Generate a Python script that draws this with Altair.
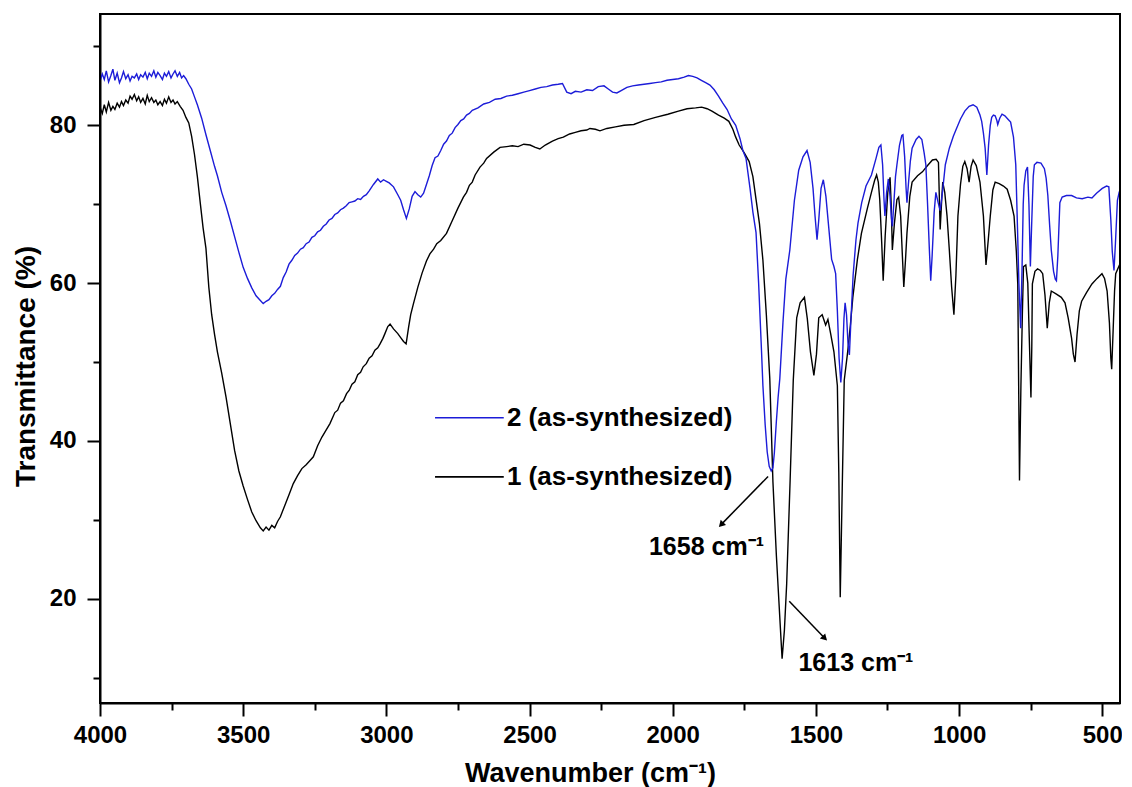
import altair as alt
import pandas as pd

BLUE = "#1c1cd8"
FONT = "Liberation Sans"

# ---- spectra: (wavenumber cm-1, transmittance %) ----
spectrum_2 = [
(4000,85.6),(3992,86.5),(3985,85.8),(3978,86.9),(3970,85.5),(3962,86.3),(3955,87.1),(3948,85.7),(3940,86.6),(3932,85.4),
(3925,86.0),(3918,86.8),(3910,85.9),(3902,86.4),(3895,85.6),(3888,86.2),(3880,86.0),(3872,86.5),(3865,85.8),(3858,86.4),
(3850,86.1),(3842,86.7),(3835,85.9),(3828,86.6),(3820,86.2),(3812,86.9),(3805,86.1),(3798,86.7),(3790,86.3),(3782,85.8),
(3775,86.6),(3768,86.2),(3760,86.8),(3752,86.0),(3745,86.5),(3738,86.9),(3730,86.2),(3722,86.7),(3715,86.0),(3708,86.3),
(3700,85.9),(3690,85.2),(3680,84.6),(3670,83.6),(3660,82.6),(3645,80.9),(3630,78.8),(3615,76.8),(3600,74.8),(3590,73.6),
(3575,71.5),(3560,69.8),(3545,67.9),(3530,65.9),(3515,63.9),(3500,62.0),(3485,60.6),(3470,59.4),(3455,58.4),(3440,57.8),
(3430,57.4),(3420,57.7),(3410,57.9),(3400,58.4),(3390,58.7),(3380,59.2),(3370,59.6),(3360,60.7),(3350,61.4),(3340,62.4),
(3330,62.9),(3320,63.5),(3310,63.8),(3300,64.3),(3290,64.5),(3280,65.0),(3270,65.2),(3260,65.8),(3250,66.0),(3240,66.5),
(3230,66.7),(3220,67.2),(3210,67.5),(3200,68.0),(3190,68.2),(3180,68.7),(3170,68.9),(3160,69.3),(3150,69.5),(3140,69.8),
(3130,70.2),(3120,70.3),(3110,70.4),(3100,70.7),(3090,70.6),(3080,71.0),(3070,71.2),(3060,71.7),(3045,72.5),(3030,73.2),
(3020,72.8),(3010,73.1),(3000,72.9),(2990,72.7),(2975,72.2),(2960,71.2),(2950,70.5),(2940,69.3),(2930,68.2),(2920,69.4),
(2910,71.0),(2900,71.6),(2890,71.2),(2880,70.9),(2870,71.4),(2860,72.5),(2850,73.6),(2840,74.9),(2830,75.9),(2820,76.1),
(2810,76.8),(2800,77.6),(2790,78.0),(2780,78.7),(2770,79.0),(2760,79.7),(2750,80.1),(2740,80.6),(2730,80.8),(2720,81.3),
(2710,81.5),(2700,81.9),(2680,82.2),(2660,82.7),(2640,82.9),(2620,83.3),(2600,83.4),(2580,83.7),(2560,83.8),(2540,84.0),
(2520,84.2),(2500,84.4),(2480,84.6),(2460,84.8),(2440,84.9),(2420,85.1),(2400,85.2),(2385,85.3),(2370,84.2),(2355,84.0),
(2340,84.3),(2320,84.2),(2300,84.5),(2280,84.4),(2260,84.9),(2240,85.0),(2225,84.6),(2210,84.2),(2195,84.1),(2180,84.4),
(2160,84.8),(2140,85.0),(2120,85.1),(2100,85.2),(2080,85.3),(2060,85.4),(2040,85.5),(2020,85.7),(2000,85.8),(1980,85.9),
(1960,86.1),(1945,86.3),(1930,86.2),(1915,86.0),(1900,85.7),(1885,85.4),(1870,85.1),(1855,84.5),(1840,83.7),(1825,82.8),
(1810,82.0),(1795,80.8),(1780,80.0),(1765,78.3),(1755,76.8),(1744,75.8),(1730,72.0),(1720,69.0),(1709,66.4),(1700,60.0),
(1690,51.5),(1685,47.0),(1677,42.0),(1670,38.6),(1663,36.8),(1656,36.2),(1650,36.6),(1645,38.5),(1638,42.5),(1632,45.5),
(1626,47.9),(1615,55.0),(1605,60.5),(1591,64.2),(1575,70.5),(1560,74.3),(1545,76.0),(1531,76.8),(1520,75.3),(1510,72.0),
(1503,68.5),(1496,65.5),(1490,68.0),(1482,72.0),(1474,73.1),(1465,71.0),(1455,67.0),(1445,63.0),(1437,62.1),(1431,61.2),
(1425,56.5),(1419,50.5),(1413,47.4),(1407,50.5),(1402,55.5),(1398,57.5),(1393,56.0),(1388,52.5),(1383,50.9),(1378,55.0),
(1370,61.0),(1360,65.5),(1353,67.6),(1340,70.2),(1325,72.3),(1306,73.7),(1290,75.8),(1280,77.2),(1273,77.5),(1267,75.0),
(1262,70.5),(1259,68.5),(1253,71.5),(1247,73.2),(1241,71.0),(1236,68.2),(1233,67.2),(1228,70.0),(1222,73.5),(1217,75.0),
(1208,77.5),(1200,78.7),(1196,78.8),(1190,76.0),(1185,72.0),(1182,70.2),(1177,72.5),(1170,75.5),(1164,77.1),(1150,78.2),
(1140,78.6),(1130,78.2),(1122,76.5),(1116,75.0),(1110,70.0),(1104,64.5),(1099,60.3),(1094,63.5),(1087,69.0),(1081,71.5),
(1073,70.2),(1066,69.2),(1058,71.5),(1048,75.0),(1034,77.1),(1020,78.6),(1010,79.5),(995,80.8),(980,81.8),(965,82.4),
(951,82.6),(938,82.3),(927,81.3),(921,80.5),(915,79.0),(909,77.1),(903,73.7),(897,77.5),(891,80.0),(886,81.0),
(880,81.3),(874,81.2),(868,80.6),(865,80.1),(858,80.9),(850,81.4),(840,81.2),(830,80.8),(820,80.4),(810,78.5),
(802,75.0),(796,67.0),(791,59.9),(785,54.3),(780,62.0),(776,70.0),(773,72.4),(767,74.2),(761,74.7),(756,70.0),
(751,62.1),(746,68.0),(741,73.5),(737,75.0),(728,75.3),(714,75.2),(702,74.5),(696,73.3),(690,71.1),(684,67.5),
(678,64.2),(670,61.5),(664,60.5),(660,60.3),(655,63.5),(648,70.2),(640,70.9),(625,71.1),(607,71.1),(590,70.8),
(570,70.7),(550,70.9),(536,70.8),(520,71.4),(500,72.0),(485,72.3),(477,72.2),(470,68.0),(465,64.0),(459,61.6),
(454,65.0),(447,70.5),(441,71.5),(433,72.3),(423,72.2),(415,70.5),(405,68.5),
]

spectrum_1 = [
(4000,82.3),(3992,81.5),(3985,82.6),(3978,81.7),(3970,82.9),(3962,81.9),(3955,82.4),(3948,82.0),(3940,82.8),(3932,82.3),
(3925,83.0),(3918,82.5),(3910,83.2),(3902,82.8),(3895,83.7),(3888,83.3),(3880,83.9),(3872,83.1),(3865,83.6),(3858,82.9),
(3850,83.4),(3842,82.7),(3835,83.8),(3828,83.0),(3820,83.5),(3812,82.9),(3805,83.2),(3798,82.6),(3790,83.0),(3782,82.5),
(3775,83.3),(3768,82.8),(3760,83.6),(3752,82.9),(3745,83.2),(3738,82.7),(3730,83.0),(3720,82.4),(3710,81.9),(3700,81.0),
(3690,80.3),(3680,78.6),(3670,76.3),(3660,73.5),(3650,70.2),(3640,67.0),(3630,64.4),(3620,59.5),(3610,56.0),(3600,53.5),
(3590,51.3),(3575,48.6),(3560,45.6),(3545,42.2),(3530,38.8),(3515,36.2),(3500,34.3),(3485,32.6),(3470,31.0),(3455,29.9),
(3440,29.0),(3430,28.6),(3420,29.1),(3410,28.7),(3400,29.3),(3390,29.0),(3380,29.8),(3370,30.4),(3355,31.8),(3340,33.2),
(3325,34.6),(3310,35.6),(3295,36.5),(3280,37.0),(3265,37.6),(3255,38.0),(3240,39.4),(3225,40.5),(3210,41.4),(3197,42.2),
(3180,43.6),(3170,43.9),(3160,44.8),(3150,45.1),(3139,46.0),(3130,46.4),(3120,47.2),(3110,47.5),(3100,48.4),(3090,48.7),
(3081,49.4),(3070,49.8),(3060,50.5),(3050,50.8),(3040,51.5),(3030,51.8),(3022,52.3),(3012,53.0),(3005,53.6),(2995,54.5),
(2987,54.8),(2975,54.2),(2960,53.6),(2950,53.1),(2940,52.6),(2931,52.3),(2922,54.5),(2915,56.0),(2906,57.3),(2890,59.5),
(2875,61.3),(2860,62.8),(2848,63.7),(2835,64.3),(2824,65.0),(2810,65.4),(2790,66.3),(2770,67.9),(2750,69.5),(2731,70.9),
(2720,71.5),(2710,72.4),(2700,72.8),(2690,73.7),(2673,74.7),(2660,75.2),(2650,75.8),(2625,76.6),(2603,77.2),(2580,77.3),
(2560,77.4),(2540,77.3),(2520,77.6),(2498,77.5),(2480,77.2),(2464,77.0),(2445,77.5),(2420,78.0),(2400,78.3),(2382,78.5),
(2360,78.9),(2340,79.1),(2320,79.3),(2300,79.4),(2289,79.6),(2270,79.5),(2254,79.3),(2230,79.6),(2200,79.8),(2170,80.0),
(2136,80.1),(2100,80.6),(2060,81.0),(2017,81.4),(1980,81.8),(1950,82.1),(1920,82.2),(1899,82.3),(1880,82.1),(1863,81.8),
(1840,81.3),(1820,80.9),(1804,80.5),(1790,79.5),(1780,78.5),(1768,77.5),(1750,76.5),(1733,75.4),(1720,73.5),(1709,70.6),
(1697,67.5),(1685,62.9),(1673,56.0),(1661,47.9),(1650,34.8),(1638,25.5),(1626,17.6),(1618,12.4),(1610,16.0),(1602,21.9),
(1590,35.0),(1579,47.7),(1567,55.6),(1555,57.5),(1540,58.2),(1530,55.5),(1519,51.3),(1507,48.3),(1498,51.0),(1490,55.6),
(1478,56.0),(1466,54.7),(1458,55.4),(1448,53.5),(1437,51.3),(1425,47.0),(1420,36.0),(1415,20.2),(1408,34.0),(1401,47.7),
(1389,51.3),(1380,54.5),(1371,58.2),(1355,63.0),(1341,66.3),(1320,69.5),(1306,71.5),(1295,73.0),(1288,73.7),(1282,72.8),
(1277,70.6),(1270,65.0),(1265,60.3),(1258,66.0),(1249,71.5),(1241,73.4),(1237,70.0),(1233,64.2),(1226,67.5),(1217,70.6),
(1211,70.9),(1204,68.5),(1198,63.5),(1193,59.5),(1187,63.0),(1182,66.3),(1172,71.0),(1164,72.8),(1145,73.6),(1128,74.1),
(1110,74.9),(1093,75.6),(1080,75.7),(1072,75.3),(1066,66.8),(1060,71.0),(1057,72.8),(1050,71.5),(1042,68.5),(1034,64.2),
(1026,59.5),(1018,56.0),(1011,61.0),(1004,68.5),(995,72.5),(987,74.8),(980,75.4),(972,74.5),(965,72.8),(958,74.8),
(951,75.6),(940,74.9),(927,72.8),(915,68.5),(906,62.3),(898,65.5),(891,68.5),(882,71.8),(874,72.8),(860,72.6),
(845,72.3),(832,71.9),(820,70.5),(808,68.5),(800,64.0),(795,59.9),(789,35.0),(784,47.0),(779,56.0),(775,62.1),
(767,62.3),(760,60.0),(754,52.0),(749,45.5),(746,52.0),(744,59.9),(735,61.5),(726,61.8),(716,61.6),(708,61.2),
(700,58.5),(692,54.3),(685,57.5),(678,59.0),(660,58.6),(643,58.2),(630,57.5),(619,55.6),(607,53.0),(601,51.0),
(595,50.0),(588,53.5),(580,56.5),(572,57.7),(555,58.8),(536,59.9),(518,60.6),(501,61.2),(492,60.6),(483,59.0),
(475,55.0),(470,50.5),(467,49.1),(462,54.0),(457,59.0),(453,61.2),(440,62.3),(430,62.9),(418,63.8),(404,65.1),
]

# ---- axes ----
x_domain = [438, 4000]
y_domain = [6.8, 94.1]
x_ticks = [4000, 3500, 3000, 2500, 2000, 1500, 1000, 500]
x_minor = [3750, 3250, 2750, 2250, 1750, 1250, 750]
y_ticks = [20, 40, 60, 80]
y_minor = [10, 30, 50, 70, 90]

# ---- legend (inside plot) ----
legend_labels = ["2 (as-synthesized)", "1 (as-synthesized)"]
legend_colors = [BLUE, "black"]
legend_y = [42.95, 35.45]
legend_x_line = [2830, 2590]
legend_x_text = 2579

# ---- peak annotations ----
ann_labels = ["1658 cm\u207b\u00b9", "1613 cm\u207b\u00b9"]
ann_text_x = [2083, 1561]
ann_text_y = [25.6, 10.8]
arrow_x0 = [1667, 1593]
arrow_y0 = [35.5, 19.7]
arrow_x1 = [1831, 1469]
arrow_y1 = [29.4, 15.0]
arrow_angle = [224, 136]

rows = []
for name, spec in (("1", spectrum_1), ("2", spectrum_2)):
    for i, (w, t) in enumerate(spec):
        rows.append({"wn": w, "t": t, "series": name, "idx": i})
spectra = pd.DataFrame(rows)

xs = alt.Scale(domain=x_domain, reverse=True, nice=False, zero=False)
ys = alt.Scale(domain=y_domain, nice=False, zero=False)

x_axis = alt.Axis(values=x_ticks, orient="bottom", tickSize=13, tickWidth=2, tickColor="black",
                  domainWidth=2, domainColor="black", grid=False, labelFlush=False, labelOverlap=False,
                  labelFont=FONT, labelFontSize=24, labelFontWeight="bold", labelColor="black",
                  labelPadding=7, title="Wavenumber (cm\u207b\u00b9)", titleFont=FONT, titleFontSize=27,
                  titleFontWeight="bold", titleColor="black", titleX=490, titleY=78,
                  titleBaseline="alphabetic", titleAlign="center", format="d")
y_axis = alt.Axis(values=y_ticks, orient="left", tickSize=13, tickWidth=2, tickColor="black",
                  domainWidth=2, domainColor="black", grid=False, labelFlush=False, labelOverlap=False,
                  labelFont=FONT, labelFontSize=24, labelFontWeight="bold", labelColor="black",
                  labelPadding=11, title="Transmittance (%)", titleFont=FONT, titleFontSize=28,
                  titleFontWeight="bold", titleColor="black", titleX=-66, titleY=352,
                  titleAngle=270, titleBaseline="alphabetic", titleAlign="center")
x_axis_minor = alt.Axis(values=x_minor, orient="bottom", tickSize=7, tickWidth=2, tickColor="black",
                        domain=False, grid=False, labels=False, title=None)
y_axis_minor = alt.Axis(values=y_minor, orient="left", tickSize=7, tickWidth=2, tickColor="black",
                        domain=False, grid=False, labels=False, title=None)

lines = alt.Chart(spectra).mark_line(strokeWidth=1.4, clip=True).encode(
    x=alt.X("wn:Q", scale=xs, axis=x_axis),
    y=alt.Y("t:Q", scale=ys, axis=y_axis),
    color=alt.Color("series:N", scale=alt.Scale(domain=["1", "2"], range=["black", BLUE]), legend=None),
    order="idx:Q",
)

minor = alt.Chart(pd.DataFrame({"wn": x_domain, "t": [50, 50]})).mark_point(opacity=0).encode(
    x=alt.X("wn:Q", scale=xs, axis=x_axis_minor),
    y=alt.Y("t:Q", scale=ys, axis=y_axis_minor),
)

frame = alt.Chart(pd.DataFrame({"x0": [x_domain[0]], "x1": [x_domain[1]],
                                "y0": [y_domain[0]], "y1": [y_domain[1]]})).mark_rect(
    filled=False, stroke="black", strokeWidth=2, fillOpacity=0).encode(
    x=alt.X("x0:Q", scale=xs, axis=None), x2="x1:Q",
    y=alt.Y("y0:Q", scale=ys, axis=None), y2="y1:Q",
)

leg_df = pd.DataFrame({"label": legend_labels, "color": legend_colors, "y": legend_y,
                       "x0": [legend_x_line[0]] * 2, "x1": [legend_x_line[1]] * 2,
                       "xt": [legend_x_text] * 2})
leg_lines = alt.Chart(leg_df).mark_rule(strokeWidth=1.6).encode(
    x=alt.X("x0:Q", scale=xs, axis=None), x2="x1:Q",
    y=alt.Y("y:Q", scale=ys, axis=None),
    color=alt.Color("color:N", scale=None),
)
leg_text = alt.Chart(leg_df).mark_text(align="left", baseline="middle", font=FONT, fontSize=26,
                                       fontWeight="bold", color="black").encode(
    x=alt.X("xt:Q", scale=xs, axis=None),
    y=alt.Y("y:Q", scale=ys, axis=None),
    text="label:N",
)

ann_df = pd.DataFrame({"label": ann_labels, "tx": ann_text_x, "ty": ann_text_y,
                       "x0": arrow_x0, "y0": arrow_y0, "x1": arrow_x1, "y1": arrow_y1,
                       "ang": arrow_angle})
arrows = alt.Chart(ann_df).mark_rule(strokeWidth=1.5, color="black").encode(
    x=alt.X("x0:Q", scale=xs, axis=None), x2="x1:Q",
    y=alt.Y("y0:Q", scale=ys, axis=None), y2="y1:Q",
)
heads = alt.Chart(ann_df).mark_point(shape="triangle-up", filled=True, size=55, color="black",
                                     opacity=1).encode(
    x=alt.X("x1:Q", scale=xs, axis=None),
    y=alt.Y("y1:Q", scale=ys, axis=None),
    angle=alt.Angle("ang:Q", scale=None),
)
ann_text = alt.Chart(ann_df).mark_text(align="left", baseline="alphabetic", font=FONT, fontSize=25,
                                       fontWeight="bold", color="black").encode(
    x=alt.X("tx:Q", scale=xs, axis=None),
    y=alt.Y("ty:Q", scale=ys, axis=None),
    text="label:N",
)

chart = alt.layer(lines, minor, frame, leg_lines, leg_text, arrows, heads, ann_text).resolve_axis(
    x="independent", y="independent"
).properties(
    width=1020, height=689,
    padding={"left": 92, "top": 6, "right": 2, "bottom": 84},
    autosize=alt.AutoSizeParams(type="none"),
    background="white",
).configure_view(stroke="black", strokeWidth=2)

chart.save("out.html", embed_options={"renderer": "svg", "actions": False})
